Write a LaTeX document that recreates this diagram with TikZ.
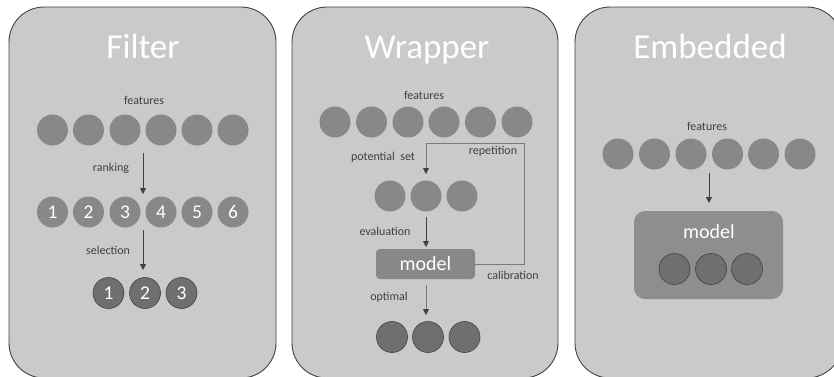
\documentclass[tikz,border=0pt]{standalone}
\usepackage{fontspec}
\setmainfont{Carlito}
\usetikzlibrary{arrows.meta}

\definecolor{panelfill}{HTML}{CACACA}
\definecolor{edge}{HTML}{424242}
\definecolor{featfill}{HTML}{888888}
\definecolor{pickfill}{HTML}{6F6F6F}
\definecolor{embfill}{HTML}{8E8E8E}
\definecolor{ink}{HTML}{404040}
\definecolor{loopline}{HTML}{7A7A7A}

\tikzset{
  panel/.style={draw=edge, line width=0.9pt, fill=panelfill, rounded corners=35pt},
  title/.style={text=white, font=\fontsize{35}{40}\selectfont, anchor=base, inner sep=0pt},
  featdot/.style={circle, fill=featfill, minimum size=31pt, inner sep=0pt,
    text=white, font=\fontsize{19.5}{21}\selectfont},
  pickdot/.style={circle, fill=pickfill, draw=edge, line width=0.6pt, minimum size=31pt,
    inner sep=0pt, text=white, font=\fontsize{19.5}{21}\selectfont},
  lbl/.style={text=ink, font=\fontsize{12}{14}\selectfont, inner sep=0pt},
  arr/.style={draw=ink, line width=0.8pt, -{Triangle[length=6pt,width=6pt]}},
  looparr/.style={draw=loopline, line width=0.8pt, -{Triangle[length=6pt,width=6pt,color=ink]}},
  modelbox/.style={fill=featfill, rounded corners=4pt, text=white,
    font=\fontsize{20}{22}\selectfont, minimum width=99pt, minimum height=30pt, inner sep=0pt},
}

\begin{document}
\begin{tikzpicture}[x=1pt,y=-1pt]
\useasboundingbox (0,0) rectangle (834,376);
\clip (0,0) rectangle (834,376);

% three method panels
\path[panel] (9,7) rectangle (276,378);
\path[panel] (292,7) rectangle (558,378);
\path[panel] (575,7) rectangle (842,378);

% ---------- Filter ----------
\node[title] (tfilter) at (143,58) {Filter};
\node[lbl] (ffeat) at (144,100) {features};
\foreach \i/\x in {1/52.5,2/88.5,3/125,4/161,5/197,6/233}
  \node[featdot] (fa\i) at (\x,130) {};
\foreach \i/\x in {1/52.5,2/88.5,3/125,4/161,5/197,6/233}
  \node[featdot] (fb\i) at (\x,212) {\i};
\foreach \i/\x in {1/108.5,2/145,3/181.5}
  \node[pickdot] (fc\i) at (\x,293) {\i};
\coordinate (fr1) at (143,153);
\coordinate (fr2) at (143,194);
\coordinate (fs1) at (143,230);
\coordinate (fs2) at (143,270);
\draw[arr] (fr1) -- (fr2);
\draw[arr] (fs1) -- (fs2);
\node[lbl] (franking) at (111,168) {ranking};
\node[lbl] (fselection) at (108,250) {selection};

% ---------- Wrapper ----------
\node[title] (twrapper) at (427,58) {Wrapper};
\node[lbl] (wfeat) at (424,95) {features};
\foreach \i/\x in {1/335,2/371.5,3/408,4/444,5/480.5,6/517}
  \node[featdot] (wa\i) at (\x,122) {};
\foreach \i/\x in {1/390,2/426,3/462}
  \node[featdot] (wb\i) at (\x,196) {};
\node[modelbox] (wmodel) at (425.5,264) {model};
\foreach \i/\x in {1/392,2/428,3/464.5}
  \node[pickdot] (wc\i) at (\x,337) {};
\coordinate (wcorner) at (524,143);
\coordinate (wpot) at (426,174);
\draw[looparr] (wmodel.east) -| (wcorner) -| (wpot);
\coordinate (we1) at (426,217);
\coordinate (we2) at (426,247);
\draw[arr] (we1) -- (we2);
\coordinate (wo1) at (426,285);
\coordinate (wo2) at (426,315);
\draw[looparr] (wo1) -- (wo2);
\node[lbl] (wpotential) at (383,157) {potential~ set};
\node[lbl] (wrepetition) at (493,151) {repetition};
\node[lbl] (wevaluation) at (385,231) {evaluation};
\node[lbl] (wcalibration) at (513,275) {calibration};
\node[lbl] (woptimal) at (389,297) {optimal};

% ---------- Embedded ----------
\node[title] (tembedded) at (710,58) {Embedded};
\node[lbl] (efeat) at (707,126) {features};
\foreach \i/\x in {1/618,2/654.5,3/691,4/727.5,5/763.5,6/800}
  \node[featdot] (ea\i) at (\x,154) {};
\node[fill=embfill, rounded corners=11pt, minimum width=149pt, minimum height=88pt,
  inner sep=0pt] (emodel) at (708.5,255) {};
\node[text=white, font=\fontsize{20}{22}\selectfont, inner sep=0pt] (emodeltxt) at (709,232) {model};
\foreach \i/\x in {1/674.5,2/711,3/747}
  \node[pickdot] (eb\i) at (\x,269) {};
\coordinate (ee1) at (709,173);
\coordinate (ee2) at (709,203);
\draw[arr] (ee1) -- (ee2);
\end{tikzpicture}
\end{document}
